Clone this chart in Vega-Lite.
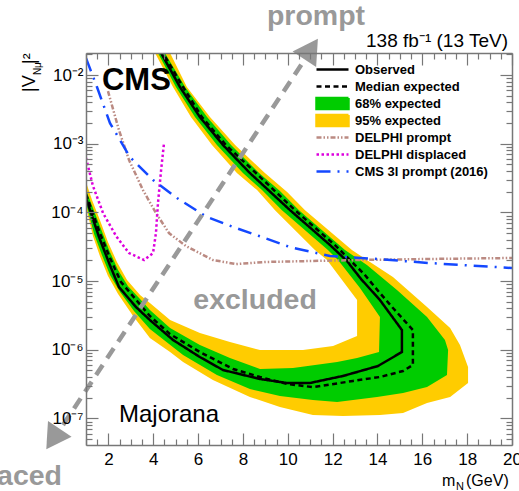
{
"$schema": "https://vega.github.io/schema/vega-lite/v6.json",
"width": 426, "height": 392,
"autosize": {"type": "none"},
"padding": {"left": 86, "top": 53, "right": 7, "bottom": 46},
"config": {"font": "Liberation Sans", "view": {"stroke": null}},
"datasets": {
"contours": [
{"c":"Y95out","i":0,"x":0.5,"y":1.2e-4},{"c":"Y95out","i":1,"x":1.0,"y":1.2e-4},{"c":"Y95out","i":2,"x":1.31,"y":4.54e-5},{"c":"Y95out","i":3,"x":1.62,"y":2.32e-5},{"c":"Y95out","i":4,"x":1.98,"y":1.19e-5},{"c":"Y95out","i":5,"x":2.43,"y":6.49e-6},{"c":"Y95out","i":6,"x":3.10,"y":3.1e-6},{"c":"Y95out","i":7,"x":3.85,"y":1.48e-6},{"c":"Y95out","i":8,"x":4.75,"y":9.27e-7},{"c":"Y95out","i":9,"x":5.33,"y":6.62e-7},{"c":"Y95out","i":10,"x":6.66,"y":3.62e-7},{"c":"Y95out","i":11,"x":8.31,"y":2.05e-7},{"c":"Y95out","i":12,"x":9.65,"y":1.47e-7},{"c":"Y95out","i":13,"x":11.12,"y":1.12e-7},{"c":"Y95out","i":14,"x":12.46,"y":1.08e-7},{"c":"Y95out","i":15,"x":14.11,"y":1.12e-7},{"c":"Y95out","i":16,"x":15.14,"y":1.2e-7},{"c":"Y95out","i":17,"x":16.21,"y":1.67e-7},{"c":"Y95out","i":18,"x":17.24,"y":2.05e-7},{"c":"Y95out","i":19,"x":18.04,"y":3.28e-7},{"c":"Y95out","i":20,"x":18.04,"y":5.61e-7},{"c":"Y95out","i":21,"x":17.68,"y":1.17e-6},{"c":"Y95out","i":22,"x":17.24,"y":2.07e-6},{"c":"Y95out","i":23,"x":16.21,"y":4.19e-6},{"c":"Y95out","i":24,"x":14.69,"y":1.15e-5},{"c":"Y95out","i":25,"x":13.53,"y":2.03e-5},{"c":"Y95out","i":26,"x":12.86,"y":2.84e-5},{"c":"Y95out","i":27,"x":10.77,"y":1.08e-4},{"c":"Y95out","i":28,"x":9.97,"y":1.98e-4},{"c":"Y95out","i":29,"x":8.98,"y":3.75e-4},{"c":"Y95out","i":30,"x":7.65,"y":9.6e-4},{"c":"Y95out","i":31,"x":6.53,"y":2.45e-3},{"c":"Y95out","i":32,"x":5.50,"y":6.71e-3},{"c":"Y95out","i":33,"x":4.75,"y":2.1e-2},{"c":"Y95out","i":34,"x":4.30,"y":4.1e-2},{"c":"Y95out","i":35,"x":0.5,"y":4.1e-2},
{"c":"G68out","i":0,"x":0.5,"y":1.37e-4},{"c":"G68out","i":1,"x":1.0,"y":1.37e-4},{"c":"G68out","i":2,"x":1.36,"y":4.85e-5},{"c":"G68out","i":3,"x":1.71,"y":2.4e-5},{"c":"G68out","i":4,"x":2.07,"y":1.23e-5},{"c":"G68out","i":5,"x":2.52,"y":6.93e-6},{"c":"G68out","i":6,"x":3.14,"y":3.66e-6},{"c":"G68out","i":7,"x":3.85,"y":2.0e-6},{"c":"G68out","i":8,"x":5.33,"y":8.37e-7},{"c":"G68out","i":9,"x":6.84,"y":4.29e-7},{"c":"G68out","i":10,"x":8.31,"y":2.68e-7},{"c":"G68out","i":11,"x":9.65,"y":2.12e-7},{"c":"G68out","i":12,"x":11.12,"y":1.85e-7},{"c":"G68out","i":13,"x":12.20,"y":1.73e-7},{"c":"G68out","i":14,"x":13.98,"y":2.05e-7},{"c":"G68out","i":15,"x":15.14,"y":2.34e-7},{"c":"G68out","i":16,"x":16.21,"y":2.86e-7},{"c":"G68out","i":17,"x":17.10,"y":4.29e-7},{"c":"G68out","i":18,"x":17.15,"y":9.9e-7},{"c":"G68out","i":19,"x":17.01,"y":1.39e-6},{"c":"G68out","i":20,"x":16.21,"y":3.0e-6},{"c":"G68out","i":21,"x":14.87,"y":7.41e-6},{"c":"G68out","i":22,"x":13.53,"y":1.71e-5},{"c":"G68out","i":23,"x":12.55,"y":2.84e-5},{"c":"G68out","i":24,"x":10.50,"y":1.08e-4},{"c":"G68out","i":25,"x":9.65,"y":2.05e-4},{"c":"G68out","i":26,"x":8.72,"y":3.75e-4},{"c":"G68out","i":27,"x":7.47,"y":9.6e-4},{"c":"G68out","i":28,"x":6.40,"y":2.45e-3},{"c":"G68out","i":29,"x":5.42,"y":6.71e-3},{"c":"G68out","i":30,"x":4.52,"y":2.1e-2},{"c":"G68out","i":31,"x":4.26,"y":4.1e-2},{"c":"G68out","i":32,"x":0.5,"y":4.1e-2},
{"c":"G68in","i":0,"x":0.5,"y":2.12e-4},{"c":"G68in","i":1,"x":1.0,"y":2.12e-4},{"c":"G68in","i":2,"x":1.31,"y":1.16e-4},{"c":"G68in","i":3,"x":1.67,"y":5.74e-5},{"c":"G68in","i":4,"x":2.03,"y":2.84e-5},{"c":"G68in","i":5,"x":2.43,"y":1.45e-5},{"c":"G68in","i":6,"x":2.87,"y":8.47e-6},{"c":"G68in","i":7,"x":3.45,"y":5.3e-6},{"c":"G68in","i":8,"x":3.85,"y":3.79e-6},{"c":"G68in","i":9,"x":4.75,"y":2.07e-6},{"c":"G68in","i":10,"x":6.08,"y":1.17e-6},{"c":"G68in","i":11,"x":7.42,"y":7.59e-7},{"c":"G68in","i":12,"x":8.76,"y":5.24e-7},{"c":"G68in","i":13,"x":10.23,"y":5.42e-7},{"c":"G68in","i":14,"x":12.20,"y":6.62e-7},{"c":"G68in","i":15,"x":13.09,"y":7.59e-7},{"c":"G68in","i":16,"x":14.07,"y":9.27e-7},{"c":"G68in","i":17,"x":14.11,"y":3.0e-6},{"c":"G68in","i":18,"x":13.22,"y":7.92e-6},{"c":"G68in","i":19,"x":12.24,"y":2.03e-5},{"c":"G68in","i":20,"x":11.79,"y":2.84e-5},{"c":"G68in","i":21,"x":9.74,"y":1.08e-4},{"c":"G68in","i":22,"x":8.85,"y":2.12e-4},{"c":"G68in","i":23,"x":8.00,"y":3.75e-4},{"c":"G68in","i":24,"x":6.84,"y":9.6e-4},{"c":"G68in","i":25,"x":5.86,"y":2.45e-3},{"c":"G68in","i":26,"x":5.01,"y":6.71e-3},{"c":"G68in","i":27,"x":4.21,"y":2.1e-2},{"c":"G68in","i":28,"x":3.94,"y":4.1e-2},{"c":"G68in","i":29,"x":0.5,"y":4.1e-2},
{"c":"Y95in","i":0,"x":0.5,"y":2.77e-4},{"c":"Y95in","i":1,"x":1.0,"y":2.77e-4},{"c":"Y95in","i":2,"x":1.27,"y":1.52e-4},{"c":"Y95in","i":3,"x":1.62,"y":7.76e-5},{"c":"Y95in","i":4,"x":1.98,"y":3.71e-5},{"c":"Y95in","i":5,"x":2.38,"y":1.9e-5},{"c":"Y95in","i":6,"x":2.83,"y":1.04e-5},{"c":"Y95in","i":7,"x":3.41,"y":6.27e-6},{"c":"Y95in","i":8,"x":3.85,"y":4.8e-6},{"c":"Y95in","i":9,"x":4.75,"y":2.71e-6},{"c":"Y95in","i":10,"x":6.08,"y":1.75e-6},{"c":"Y95in","i":11,"x":7.42,"y":1.3e-6},{"c":"Y95in","i":12,"x":8.76,"y":9.9e-7},{"c":"Y95in","i":13,"x":10.68,"y":9.9e-7},{"c":"Y95in","i":14,"x":12.02,"y":1.13e-6},{"c":"Y95in","i":15,"x":13.09,"y":1.58e-6},{"c":"Y95in","i":16,"x":13.09,"y":5.3e-6},{"c":"Y95in","i":17,"x":11.75,"y":2.03e-5},{"c":"Y95in","i":18,"x":11.21,"y":2.84e-5},{"c":"Y95in","i":19,"x":9.43,"y":1.08e-4},{"c":"Y95in","i":20,"x":8.63,"y":2.12e-4},{"c":"Y95in","i":21,"x":7.73,"y":3.75e-4},{"c":"Y95in","i":22,"x":6.62,"y":9.6e-4},{"c":"Y95in","i":23,"x":5.68,"y":2.45e-3},{"c":"Y95in","i":24,"x":4.88,"y":6.71e-3},{"c":"Y95in","i":25,"x":4.08,"y":2.1e-2},{"c":"Y95in","i":26,"x":3.81,"y":4.1e-2},{"c":"Y95in","i":27,"x":0.5,"y":4.1e-2}
],
"lines": [
{"s":"Observed","i":0,"x":1.0,"y":1.62e-4},{"s":"Observed","i":1,"x":1.58,"y":4.39e-5},{"s":"Observed","i":2,"x":2.03,"y":1.83e-5},{"s":"Observed","i":3,"x":2.47,"y":8.2e-6},{"s":"Observed","i":4,"x":3.23,"y":4.19e-6},{"s":"Observed","i":5,"x":3.85,"y":2.71e-6},{"s":"Observed","i":6,"x":4.88,"y":1.39e-6},{"s":"Observed","i":7,"x":6.08,"y":7.83e-7},{"s":"Observed","i":8,"x":7.11,"y":5.07e-7},{"s":"Observed","i":9,"x":8.76,"y":3.75e-7},{"s":"Observed","i":10,"x":9.97,"y":3.28e-7},{"s":"Observed","i":11,"x":10.99,"y":3.28e-7},{"s":"Observed","i":12,"x":12.46,"y":4.15e-7},{"s":"Observed","i":13,"x":14.02,"y":5.79e-7},{"s":"Observed","i":14,"x":15.09,"y":9.27e-7},{"s":"Observed","i":15,"x":15.09,"y":1.94e-6},{"s":"Observed","i":16,"x":14.11,"y":5.3e-6},{"s":"Observed","i":17,"x":13.27,"y":1.07e-5},{"s":"Observed","i":18,"x":12.64,"y":1.96e-5},{"s":"Observed","i":19,"x":11.88,"y":3.36e-5},{"s":"Observed","i":20,"x":10.10,"y":1.08e-4},{"s":"Observed","i":21,"x":8.31,"y":3.75e-4},{"s":"Observed","i":22,"x":7.11,"y":9.6e-4},{"s":"Observed","i":23,"x":6.08,"y":2.45e-3},{"s":"Observed","i":24,"x":5.19,"y":6.71e-3},{"s":"Observed","i":25,"x":4.35,"y":2.1e-2},{"s":"Observed","i":26,"x":4.08,"y":4.1e-2},
{"s":"Median expected","i":0,"x":1.0,"y":1.85e-4},{"s":"Median expected","i":1,"x":1.62,"y":5.01e-5},{"s":"Median expected","i":2,"x":2.07,"y":2.17e-5},{"s":"Median expected","i":3,"x":2.56,"y":9.7e-6},{"s":"Median expected","i":4,"x":3.32,"y":4.95e-6},{"s":"Median expected","i":5,"x":3.85,"y":3.1e-6},{"s":"Median expected","i":6,"x":4.75,"y":1.69e-6},{"s":"Median expected","i":7,"x":6.08,"y":9.27e-7},{"s":"Median expected","i":8,"x":7.56,"y":5.24e-7},{"s":"Median expected","i":9,"x":8.76,"y":4.01e-7},{"s":"Median expected","i":10,"x":9.97,"y":3.17e-7},{"s":"Median expected","i":11,"x":11.12,"y":2.86e-7},{"s":"Median expected","i":12,"x":12.91,"y":3.51e-7},{"s":"Median expected","i":13,"x":14.11,"y":4.01e-7},{"s":"Median expected","i":14,"x":15.14,"y":4.9e-7},{"s":"Median expected","i":15,"x":15.58,"y":6.0e-7},{"s":"Median expected","i":16,"x":15.58,"y":1.94e-6},{"s":"Median expected","i":17,"x":14.69,"y":4.06e-6},{"s":"Median expected","i":18,"x":14.11,"y":6.7e-6},{"s":"Median expected","i":19,"x":13.40,"y":1.27e-5},{"s":"Median expected","i":20,"x":12.15,"y":3.24e-5},{"s":"Median expected","i":21,"x":10.32,"y":1.08e-4},{"s":"Median expected","i":22,"x":8.58,"y":3.75e-4},{"s":"Median expected","i":23,"x":7.24,"y":9.6e-4},{"s":"Median expected","i":24,"x":6.17,"y":2.45e-3},{"s":"Median expected","i":25,"x":5.33,"y":6.71e-3},{"s":"Median expected","i":26,"x":4.43,"y":2.1e-2},{"s":"Median expected","i":27,"x":4.17,"y":4.1e-2},
{"s":"DELPHI prompt","i":0,"x":1.98,"y":5.86e-3},{"s":"DELPHI prompt","i":1,"x":2.47,"y":1.58e-3},{"s":"DELPHI prompt","i":2,"x":2.92,"y":5.79e-4},{"s":"DELPHI prompt","i":3,"x":3.54,"y":2.12e-4},{"s":"DELPHI prompt","i":4,"x":4.12,"y":9.8e-5},{"s":"DELPHI prompt","i":5,"x":4.70,"y":5.01e-5},{"s":"DELPHI prompt","i":6,"x":5.46,"y":3.24e-5},{"s":"DELPHI prompt","i":7,"x":6.66,"y":2.03e-5},{"s":"DELPHI prompt","i":8,"x":7.69,"y":1.77e-5},{"s":"DELPHI prompt","i":9,"x":9.03,"y":1.9e-5},{"s":"DELPHI prompt","i":10,"x":10.99,"y":1.96e-5},{"s":"DELPHI prompt","i":11,"x":13.22,"y":2.03e-5},{"s":"DELPHI prompt","i":12,"x":16.34,"y":2.1e-5},{"s":"DELPHI prompt","i":13,"x":20.0,"y":2.17e-5},
{"s":"DELPHI displaced","i":0,"x":1.0,"y":6.21e-4},{"s":"DELPHI displaced","i":1,"x":1.31,"y":2.43e-4},{"s":"DELPHI displaced","i":2,"x":1.76,"y":9.8e-5},{"s":"DELPHI displaced","i":3,"x":2.34,"y":4.54e-5},{"s":"DELPHI displaced","i":4,"x":2.92,"y":2.56e-5},{"s":"DELPHI displaced","i":5,"x":3.59,"y":2.03e-5},{"s":"DELPHI displaced","i":6,"x":3.99,"y":2.56e-5},{"s":"DELPHI displaced","i":7,"x":4.12,"y":5.01e-5},{"s":"DELPHI displaced","i":8,"x":4.21,"y":1.37e-4},{"s":"DELPHI displaced","i":9,"x":4.35,"y":4.15e-4},{"s":"DELPHI displaced","i":10,"x":4.48,"y":1.03e-3},
{"s":"CMS 3l prompt (2016)","i":0,"x":1.0,"y":1.77e-2},{"s":"CMS 3l prompt (2016)","i":1,"x":1.49,"y":6.71e-3},{"s":"CMS 3l prompt (2016)","i":2,"x":2.07,"y":2.0e-3},{"s":"CMS 3l prompt (2016)","i":3,"x":2.96,"y":6.41e-4},{"s":"CMS 3l prompt (2016)","i":4,"x":3.99,"y":2.96e-4},{"s":"CMS 3l prompt (2016)","i":5,"x":5.06,"y":1.62e-4},{"s":"CMS 3l prompt (2016)","i":6,"x":6.40,"y":8.57e-5},{"s":"CMS 3l prompt (2016)","i":7,"x":7.56,"y":6.14e-5},{"s":"CMS 3l prompt (2016)","i":8,"x":8.72,"y":4.54e-5},{"s":"CMS 3l prompt (2016)","i":9,"x":10.10,"y":3.13e-5},{"s":"CMS 3l prompt (2016)","i":10,"x":11.88,"y":2.32e-5},{"s":"CMS 3l prompt (2016)","i":11,"x":13.98,"y":2.1e-5},{"s":"CMS 3l prompt (2016)","i":12,"x":16.34,"y":1.83e-5},{"s":"CMS 3l prompt (2016)","i":13,"x":20.0,"y":1.55e-5}
]
},
"encoding": {
"x": {"field": "x", "type": "quantitative", "scale": {"type": "linear", "domain": [1, 20], "nice": false, "zero": false}, "axis": null},
"y": {"field": "y", "type": "quantitative", "scale": {"type": "log", "domain": [4.1e-8, 2.1e-2], "nice": false}, "axis": null}
},
"resolve": {"axis": {"x": "independent", "y": "independent"}},
"layer": [
{"data": {"name": "contours"}, "transform": [{"filter": "datum.c == 'Y95out'"}],
 "mark": {"type": "line", "fill": "#ffcc00", "stroke": "transparent", "strokeWidth": 0, "clip": true},
 "encoding": {
  "x": {"field": "x", "type": "quantitative", "scale": {"type": "linear", "domain": [1, 20], "nice": false, "zero": false},
   "axis": {"orient": "bottom", "title": null, "grid": false, "zindex": 1,
    "values": [1,1.5,2,2.5,3,3.5,4,4.5,5,5.5,6,6.5,7,7.5,8,8.5,9,9.5,10,10.5,11,11.5,12,12.5,13,13.5,14,14.5,15,15.5,16,16.5,17,17.5,18,18.5,19,19.5,20],
    "labelExpr": "datum.value % 2 == 0 ? format(datum.value, 'd') : ''",
    "tickSize": {"condition": {"test": "datum.value % 2 == 0", "value": -12}, "value": -6},
    "labelPadding": 18, "labelFontSize": 17, "labelFont": "Liberation Sans", "labelColor": "#000", "labelFlush": false, "labelOverlap": false, "labelBound": false,
    "domainColor": "#777", "domainWidth": 1.5, "tickColor": "#777", "tickWidth": 1.2}},
  "y": {"field": "y", "type": "quantitative", "scale": {"type": "log", "domain": [4.1e-8, 2.1e-2], "nice": false},
   "axis": {"orient": "left", "title": null, "grid": false, "zindex": 1,
    "values": [5e-8,6e-8,7e-8,8e-8,9e-8,1e-7,2e-7,3e-7,4e-7,5e-7,6e-7,7e-7,8e-7,9e-7,1e-6,2e-6,3e-6,4e-6,5e-6,6e-6,7e-6,8e-6,9e-6,1e-5,2e-5,3e-5,4e-5,5e-5,6e-5,7e-5,8e-5,9e-5,1e-4,2e-4,3e-4,4e-4,5e-4,6e-4,7e-4,8e-4,9e-4,1e-3,2e-3,3e-3,4e-3,5e-3,6e-3,7e-3,8e-3,9e-3,1e-2,2e-2],
    "labelExpr": "abs(log(datum.value)/LN10 - round(log(datum.value)/LN10)) < 1e-6 ? '10⁻' + ['⁰','¹','²','³','⁴','⁵','⁶','⁷','⁸','⁹'][-round(log(datum.value)/LN10)] : ''",
    "tickSize": {"condition": {"test": "abs(log(datum.value)/LN10 - round(log(datum.value)/LN10)) < 1e-6", "value": -12}, "value": -6},
    "labelPadding": 15, "labelFontSize": 17, "labelFont": "Liberation Sans", "labelColor": "#000", "labelFlush": false, "labelOverlap": false, "labelBound": false,
    "domainColor": "#777", "domainWidth": 1.5, "tickColor": "#777", "tickWidth": 1.2}},
  "order": {"field": "i", "type": "quantitative"}}},
{"data": {"name": "contours"}, "transform": [{"filter": "datum.c == 'G68out'"}],
 "mark": {"type": "line", "fill": "#00cc00", "stroke": "transparent", "strokeWidth": 0, "clip": true},
 "encoding": {
  "x": {"field": "x", "type": "quantitative", "scale": {"type": "linear", "domain": [1, 20], "nice": false, "zero": false},
   "axis": {"orient": "top", "title": null, "grid": false, "labels": false, "zindex": 1,
    "values": [1,1.5,2,2.5,3,3.5,4,4.5,5,5.5,6,6.5,7,7.5,8,8.5,9,9.5,10,10.5,11,11.5,12,12.5,13,13.5,14,14.5,15,15.5,16,16.5,17,17.5,18,18.5,19,19.5,20],
    "tickSize": {"condition": {"test": "datum.value % 2 == 0", "value": -12}, "value": -6},
    "domainColor": "#777", "domainWidth": 1.5, "tickColor": "#777", "tickWidth": 1.2}},
  "y": {"field": "y", "type": "quantitative", "scale": {"type": "log", "domain": [4.1e-8, 2.1e-2], "nice": false},
   "axis": {"orient": "right", "title": null, "grid": false, "labels": false, "zindex": 1,
    "values": [5e-8,6e-8,7e-8,8e-8,9e-8,1e-7,2e-7,3e-7,4e-7,5e-7,6e-7,7e-7,8e-7,9e-7,1e-6,2e-6,3e-6,4e-6,5e-6,6e-6,7e-6,8e-6,9e-6,1e-5,2e-5,3e-5,4e-5,5e-5,6e-5,7e-5,8e-5,9e-5,1e-4,2e-4,3e-4,4e-4,5e-4,6e-4,7e-4,8e-4,9e-4,1e-3,2e-3,3e-3,4e-3,5e-3,6e-3,7e-3,8e-3,9e-3,1e-2,2e-2],
    "tickSize": {"condition": {"test": "abs(log(datum.value)/LN10 - round(log(datum.value)/LN10)) < 1e-6", "value": -12}, "value": -6},
    "domainColor": "#777", "domainWidth": 1.5, "tickColor": "#777", "tickWidth": 1.2}},
  "order": {"field": "i", "type": "quantitative"}}},
{"data": {"name": "contours"}, "transform": [{"filter": "datum.c == 'G68in'"}],
 "mark": {"type": "line", "fill": "#ffcc00", "stroke": "transparent", "strokeWidth": 0, "clip": true},
 "encoding": {"order": {"field": "i", "type": "quantitative"}}},
{"data": {"name": "contours"}, "transform": [{"filter": "datum.c == 'Y95in'"}],
 "mark": {"type": "line", "fill": "#ffffff", "stroke": "transparent", "strokeWidth": 0, "clip": true},
 "encoding": {"order": {"field": "i", "type": "quantitative"}}},
{"data": {"name": "lines"},
 "mark": {"type": "line", "clip": true, "strokeCap": "butt"},
 "encoding": {
  "order": {"field": "i", "type": "quantitative"},
  "color": {"field": "s", "type": "nominal",
   "scale": {"domain": ["Observed","Median expected","68% expected","95% expected","DELPHI prompt","DELPHI displaced","CMS 3l prompt (2016)"],
             "range": ["#000000","#000000","#00cc00","#ffcc00","#bb8a82","#dd00dd","#1448ff"]},
   "legend": {"title": null, "orient": "none", "legendX": 240, "legendY": 10, "padding": 0,
     "symbolSize": 64, "labelOffset": 16, "rowPadding": -6,
     "labelFont": "Liberation Sans", "labelFontSize": 13, "labelFontWeight": "bold", "labelColor": "#000",
     "encode": {"symbols": {"update": {
       "shape": {"signal": "(datum.value == '68% expected' || datum.value == '95% expected') ? 'M-4,-1.35L4,-1.35L4,1.35L-4,1.35Z' : 'M-4,-1.35M-4,0L4,0M4,1.35'"},
       "fill": {"signal": "datum.value == '68% expected' ? '#00cc00' : (datum.value == '95% expected' ? '#ffcc00' : 'transparent')"},
       "stroke": {"signal": "(datum.value == '68% expected' || datum.value == '95% expected') ? 'transparent' : scale('color', datum.value)"},
       "strokeCap": {"value": "butt"},
       "strokeDash": {"signal": "scale('strokeDash', datum.value)"},
       "strokeWidth": {"signal": "(datum.value == '68% expected' || datum.value == '95% expected') ? 0 : scale('strokeWidth', datum.value)"},
       "opacity": {"value": 1}}}}}},
  "strokeDash": {"field": "s", "type": "nominal",
   "scale": {"domain": ["Observed","Median expected","68% expected","95% expected","DELPHI prompt","DELPHI displaced","CMS 3l prompt (2016)"],
             "range": [[1,0],[5,3.5],[1,0],[1,0],[5,2,1.5,2,1.5,2],[2.5,2.5],[14,7,2,7]]}, "legend": null},
  "strokeWidth": {"field": "s", "type": "nominal",
   "scale": {"domain": ["Observed","Median expected","68% expected","95% expected","DELPHI prompt","DELPHI displaced","CMS 3l prompt (2016)"],
             "range": [2.5,2.5,1,1,3,3,2.5]}, "legend": null}}},
{"data": {"values": [{"x": -0.026, "y": 8.0e-8, "i": 0}, {"x": 10.68, "y": 1.55e-2, "i": 1}]},
 "mark": {"type": "line", "color": "#999999", "strokeWidth": 4.5, "strokeDash": [12, 8], "clip": false},
 "encoding": {"order": {"field": "i", "type": "quantitative"}}},
{"data": {"values": [{"x": 11.04, "y": 2.4e-2}]},
 "mark": {"type": "point", "shape": "triangle-up", "filled": true, "color": "#999999", "opacity": 1, "size": 800, "angle": 33.5, "clip": false}},
{"data": {"values": [{"x": -0.47, "y": 5.0e-8}]},
 "mark": {"type": "point", "shape": "triangle-up", "filled": true, "color": "#999999", "opacity": 1, "size": 800, "angle": 213.5, "clip": false}},
{"data": {"values": [{"x": 11.26, "y": 5.37e-2, "t": "prompt"}]},
 "mark": {"type": "text", "font": "Liberation Sans", "fontWeight": "bold", "fontSize": 28.5, "color": "#999999", "align": "center", "baseline": "alphabetic", "clip": false},
 "encoding": {"text": {"field": "t"}}},
{"data": {"values": [{"x": -0.07, "y": 1.07e-8, "t": "displaced"}]},
 "mark": {"type": "text", "font": "Liberation Sans", "fontWeight": "bold", "fontSize": 28.5, "color": "#999999", "align": "right", "baseline": "alphabetic", "clip": false},
 "encoding": {"text": {"field": "t"}}},
{"data": {"values": [{"x": 8.54, "y": 5.3e-6, "t": "excluded"}]},
 "mark": {"type": "text", "font": "Liberation Sans", "fontWeight": "bold", "fontSize": 28.5, "color": "#999999", "align": "center", "baseline": "middle", "clip": false},
 "encoding": {"text": {"field": "t"}}},
{"data": {"values": [{"x": 1.71, "y": 6.07e-3, "t": "CMS"}]},
 "mark": {"type": "text", "font": "Liberation Sans", "fontWeight": "bold", "fontSize": 31, "color": "#000000", "align": "left", "baseline": "alphabetic", "clip": false},
 "encoding": {"text": {"field": "t"}}},
{"data": {"values": [{"x": 2.47, "y": 8.87e-8, "t": "Majorana"}]},
 "mark": {"type": "text", "font": "Liberation Sans", "fontSize": 24, "color": "#000000", "align": "left", "baseline": "alphabetic", "clip": false},
 "encoding": {"text": {"field": "t"}}},
{"data": {"values": [{"x": 19.82, "y": 2.56e-2, "t": "138 fb⁻¹ (13 TeV)"}]},
 "mark": {"type": "text", "font": "Liberation Sans", "fontSize": 19, "color": "#000000", "align": "right", "baseline": "alphabetic", "clip": false},
 "encoding": {"text": {"field": "t"}}},
{"data": {"values": [{"x": 16.88, "y": 1.035e-8, "t": "m"}]},
 "mark": {"type": "text", "font": "Liberation Sans", "fontSize": 16, "color": "#000000", "align": "left", "baseline": "alphabetic", "clip": false},
 "encoding": {"text": {"field": "t"}}},
{"data": {"values": [{"x": 17.5, "y": 9.06e-9, "t": "N"}]},
 "mark": {"type": "text", "font": "Liberation Sans", "fontSize": 11, "color": "#000000", "align": "left", "baseline": "alphabetic", "clip": false},
 "encoding": {"text": {"field": "t"}}},
{"data": {"values": [{"x": 17.95, "y": 1.035e-8, "t": "(GeV)"}]},
 "mark": {"type": "text", "font": "Liberation Sans", "fontSize": 16, "color": "#000000", "align": "left", "baseline": "alphabetic", "clip": false},
 "encoding": {"text": {"field": "t"}}},
{"data": {"values": [{"x": -1.275, "y": 5.67e-3, "t": "|V"}]},
 "mark": {"type": "text", "font": "Liberation Sans", "fontSize": 18, "color": "#000000", "align": "left", "baseline": "alphabetic", "angle": 270, "clip": false},
 "encoding": {"text": {"field": "t"}}},
{"data": {"values": [{"x": -1.0, "y": 1.0e-2, "t": "Nμ"}]},
 "mark": {"type": "text", "font": "Liberation Sans", "fontSize": 10, "color": "#000000", "align": "left", "baseline": "alphabetic", "angle": 270, "clip": false},
 "encoding": {"text": {"field": "t"}}},
{"data": {"values": [{"x": -1.275, "y": 1.45e-2, "t": "|²"}]},
 "mark": {"type": "text", "font": "Liberation Sans", "fontSize": 18, "color": "#000000", "align": "left", "baseline": "alphabetic", "angle": 270, "clip": false},
 "encoding": {"text": {"field": "t"}}}
]
}
